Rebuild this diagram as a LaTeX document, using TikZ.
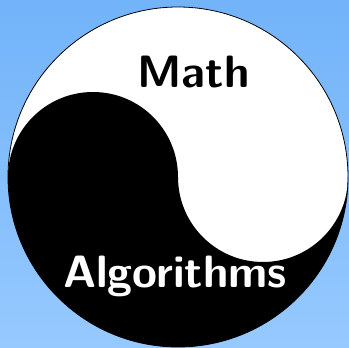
\documentclass[tikz,border=0pt]{standalone}
\begin{document}
\begin{tikzpicture}[x=1bp,y=1bp,
  lbl/.style={font=\sffamily\bfseries\fontsize{45.5}{54}\selectfont, inner sep=0pt, anchor=base}]
\useasboundingbox (0,0) rectangle (349,348);
\shade[top color={rgb,255:red,114;green,179;blue,249}, bottom color={rgb,255:red,150;green,201;blue,255}] (0,0) rectangle (349,348);
\coordinate (c) at (178,171);
\fill[white] (c) circle (170);
\fill[black] (8,171) arc[start angle=180,end angle=0,radius=85]
  arc[start angle=180,end angle=360,radius=85]
  arc[start angle=0,end angle=-180,radius=170] -- cycle;
\draw[line width=0.8bp] (c) circle (170);
\node[lbl, text=black] (math) at (193.5,261) {Math};
\node[lbl, text=white] (algo) at (175,61) {Algorithms};
\end{tikzpicture}
\end{document}
